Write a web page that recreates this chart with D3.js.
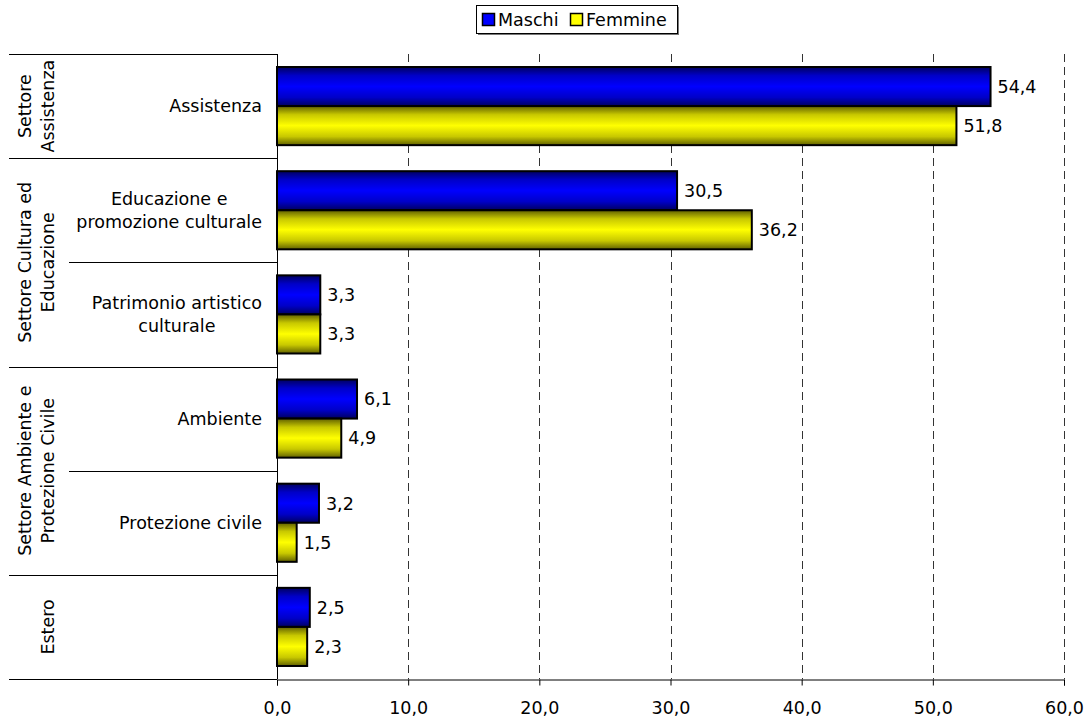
<!DOCTYPE html>
<html>
<head>
<meta charset="utf-8">
<script src="https://cdn.jsdelivr.net/npm/d3@7"></script>
<style>
  html, body { margin: 0; padding: 0; background: #fff; }
  svg { display: block; font-family: "DejaVu Sans", Verdana, sans-serif; }
</style>
</head>
<body>
<svg id="chart" width="1090" height="720"></svg>
<script>
// Activity areas (one row each), split over sectors
const categories = ["Assistenza", "Educazione e\npromozione culturale", "Patrimonio artistico\nculturale", "Ambiente", "Protezione civile", "Estero"];
const sectors = [
  { name: "Settore\nAssistenza", first: 0, last: 0 },
  { name: "Settore Cultura ed\nEducazione", first: 1, last: 2 },
  { name: "Settore Ambiente e\nProtezione Civile", first: 3, last: 4 },
  { name: "Estero", first: 5, last: 5 }
];
const seriesNames = ["Maschi", "Femmine"];
const maschi = [54.4, 30.5, 3.3, 6.1, 3.2, 2.5];
const femmine = [51.8, 36.2, 3.3, 4.9, 1.5, 2.3];
const xTicks = [0, 10, 20, 30, 40, 50, 60];

const FS = 17.5;
const svg = d3.select("#chart");
const plotLeft = 277, plotRight = 1064, plotTop = 54, plotBottom = 679;
const fmt = v => d3.format(".1f")(v).replace(".", ",");

const x = d3.scaleLinear().domain([0, 60]).range([plotLeft, plotRight]);
const y = d3.scaleBand().domain(d3.range(categories.length)).range([plotTop, plotBottom]).paddingInner(0).paddingOuter(0);
const inner = d3.scaleBand().domain(seriesNames).range([0, y.bandwidth()]).paddingInner(0).paddingOuter(0.333);

// Gradients for bars
const defs = svg.append("defs");
function grad(id, dark, mid, bright) {
  const g = defs.append("linearGradient").attr("id", id).attr("x1", 0).attr("y1", 0).attr("x2", 0).attr("y2", 1);
  g.append("stop").attr("offset", "0%").attr("stop-color", dark);
  g.append("stop").attr("offset", "22%").attr("stop-color", mid);
  g.append("stop").attr("offset", "50%").attr("stop-color", bright);
  g.append("stop").attr("offset", "78%").attr("stop-color", mid);
  g.append("stop").attr("offset", "100%").attr("stop-color", dark);
}
grad("gBlue", "#000060", "#0000c8", "#0000ff");
grad("gYellow", "#606000", "#c8c800", "#ffff00");
const fills = { Maschi: "url(#gBlue)", Femmine: "url(#gYellow)" };
const flat = { Maschi: "#0000ff", Femmine: "#ffff00" };

// Vertical dashed gridlines
svg.append("g").selectAll("line").data(xTicks.filter(d => d > 0)).join("line")
  .attr("x1", d => Math.round(x(d)) + 0.5).attr("x2", d => Math.round(x(d)) + 0.5)
  .attr("y1", plotTop).attr("y2", plotBottom)
  .attr("stroke", "#333").attr("stroke-width", 1).attr("stroke-dasharray", "8,5");

// X axis
const xAxis = svg.append("g").attr("transform", `translate(0,${plotBottom + 0.5})`)
  .call(d3.axisBottom(x).tickValues(xTicks).tickFormat(fmt).tickSize(6).tickPadding(16));
xAxis.select(".domain").attr("stroke", "#000");
xAxis.selectAll(".tick line").attr("stroke", "#000");
xAxis.selectAll("text").attr("font-size", FS).attr("fill", "#000").attr("font-family", "DejaVu Sans, Verdana, sans-serif");

// Y axis line
svg.append("line").attr("x1", plotLeft + 0.5).attr("x2", plotLeft + 0.5).attr("y1", plotTop).attr("y2", plotBottom)
  .attr("stroke", "#000");

// Row separators: full width between sectors, partial within a sector
const boundaries = d3.range(categories.length + 1);
const sectorStarts = new Set(sectors.map(s => s.first));
svg.append("g").selectAll("line").data(boundaries).join("line")
  .attr("x1", i => (i === categories.length || sectorStarts.has(i)) ? 9 : 69)
  .attr("x2", plotLeft)
  .attr("y1", i => Math.round(y(0) + i * y.step()) + 0.5)
  .attr("y2", i => Math.round(y(0) + i * y.step()) + 0.5)
  .attr("stroke", "#000").attr("stroke-width", 1);

// Bars
const rows = categories.map((c, i) => ({ i, vals: [{ k: "Maschi", v: maschi[i] }, { k: "Femmine", v: femmine[i] }] }));
const groups = svg.append("g").selectAll("g").data(rows).join("g")
  .attr("transform", d => `translate(0,${y(d.i)})`);
groups.selectAll("rect").data(d => d.vals).join("rect")
  .attr("x", x(0))
  .attr("y", d => inner(d.k))
  .attr("width", d => x(d.v) - x(0))
  .attr("height", inner.bandwidth())
  .attr("fill", d => fills[d.k])
  .attr("stroke", "#000").attr("stroke-width", 2);
groups.selectAll("text.val").data(d => d.vals).join("text").attr("class", "val")
  .attr("x", d => x(d.v) + 7)
  .attr("y", d => inner(d.k) + inner.bandwidth() / 2)
  .attr("dy", "0.36em")
  .attr("font-size", FS)
  .text(d => fmt(d.v));

// Category labels (centred lines, right edge near the axis);
// a single-row sector carries its name only on the rotated label
categories.forEach((c, i) => {
  const own = sectors.find(s => s.first === i && s.last === i && s.name === c);
  if (own) return;
  const lines = c.split("\n");
  const t = svg.append("text").attr("font-size", FS).attr("text-anchor", "middle");
  const lh = 23;
  const cy = y(i) + y.bandwidth() / 2;
  lines.forEach((ln, j) => {
    t.append("tspan").attr("x", 0).attr("y", cy + (j - (lines.length - 1) / 2) * lh).attr("dy", "0.36em").text(ln);
  });
  let w = 0;
  t.selectAll("tspan").each(function () { w = Math.max(w, this.getComputedTextLength()); });
  t.selectAll("tspan").attr("x", 262 - w / 2);
});

// Sector labels, rotated
sectors.forEach(s => {
  const lines = s.name.split("\n");
  const cy = (y(s.first) + y(s.last) + y.bandwidth()) / 2;
  const g = svg.append("g").attr("transform", `translate(0,${cy}) rotate(-90)`);
  const t = g.append("text").attr("font-size", FS).attr("text-anchor", "middle");
  const xs = lines.length === 1 ? [48] : [25, 48];
  lines.forEach((ln, j) => {
    t.append("tspan").attr("x", 0).attr("y", xs[j]).attr("dy", "0.36em").text(ln);
  });
});

// Legend
const lg = svg.append("g");
lg.append("rect").attr("x", 478).attr("y", 7).attr("width", 201).attr("height", 28).attr("fill", "#777");
lg.append("rect").attr("x", 476.5).attr("y", 5.5).attr("width", 201).attr("height", 28)
  .attr("fill", "#fff").attr("stroke", "#000");
const lx = [482, 570];
seriesNames.forEach((n, i) => {
  lg.append("rect").attr("x", lx[i] + 0.5).attr("y", 13.5).attr("width", 12).attr("height", 12)
    .attr("fill", flat[n]).attr("stroke", "#000").attr("stroke-width", 1.5);
  lg.append("text").attr("x", lx[i] + 16).attr("y", 19.5).attr("dy", "0.36em").attr("font-size", FS).text(n);
});
</script>
</body>
</html>
